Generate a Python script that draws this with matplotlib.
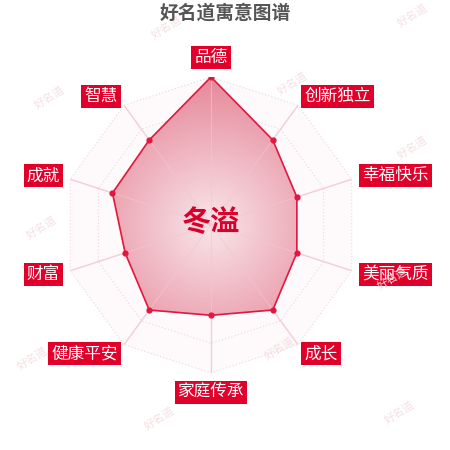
import numpy as np
import matplotlib
matplotlib.use("Agg")
import matplotlib.pyplot as plt

plt.rcParams['font.family'] = ['Noto Sans CJK SC', 'DejaVu Sans']

title = "好名道寓意图谱"
name = "冬溢"
categories = ["品德", "创新独立", "幸福快乐", "美丽气质", "成长",
              "家庭传承", "健康平安", "财富", "成就", "智慧"]
values = [100, 71, 61, 61, 71, 61, 71, 61, 70, 71]
max_value = 100
levels = [20, 40, 60, 80, 100]

W = H = 450
fig = plt.figure(figsize=(4.5, 4.5), dpi=100)
fig.patch.set_facecolor("white")

cx, cy, R = 211 / W, 1 - 225 / H, 148 / W
rect = [cx - R, cy - R, 2 * R, 2 * R]

# watermarks
wm = [(167, 27), (413, 15), (50, 97), (293, 83), (413, 147), (42, 227),
      (393, 278), (33, 358), (280, 348), (160, 418), (400, 412)]
for (x, y) in wm:
    fig.text(x / W, 1 - y / H, "好名道", fontsize=8, color="#f5e0e3",
             rotation=32, ha="center", va="center", zorder=0)

ax = fig.add_axes(rect, projection="polar")
ax.set_theta_zero_location("N")
ax.set_theta_direction(-1)
ax.set_ylim(0, max_value)
ax.axis("off")
ax.patch.set_alpha(0)

n = len(categories)
theta = np.linspace(0, 2 * np.pi, n, endpoint=False)
tc = np.append(theta, theta[0])

# background of grid
ax.fill(tc, [max_value] * (n + 1), color=(0.996, 0.978, 0.982), zorder=1, lw=0)
for lv in levels:
    ax.plot(tc, [lv] * (n + 1), color="#eed6db", lw=0.8, ls=(0, (1, 2)), zorder=2)
for t in theta:
    ax.plot([t, t], [0, max_value], color="#f3dbe0", lw=1.0, zorder=2)

vc = np.append(values, values[0])
poly = ax.fill(tc, vc, color="none", lw=0, zorder=3)[0]

# radial gradient overlay clipped to data polygon
gax = fig.add_axes(rect)
gax.set_xlim(-1, 1)
gax.set_ylim(-1, 1)
gax.axis("off")
gax.patch.set_alpha(0)
yy, xx = np.mgrid[-1:1:400j, -1:1:400j]
rr = np.clip(np.sqrt(xx ** 2 + yy ** 2), 0, 1)
c0 = np.array([249, 230, 234]) / 255
c1 = np.array([230, 136, 154]) / 255
img = c0[None, None, :] * (1 - rr[..., None]) + c1[None, None, :] * rr[..., None]
im = gax.imshow(img, extent=[-1, 1, -1, 1], origin="lower", zorder=3)
im.set_clip_path(poly)

ax2 = fig.add_axes(rect, projection="polar")
ax2.set_theta_zero_location("N")
ax2.set_theta_direction(-1)
ax2.set_ylim(0, max_value)
ax2.axis("off")
ax2.patch.set_alpha(0)
for t in theta:
    ax2.plot([t, t], [0, max_value], color="#f4c6cf", lw=0.8, alpha=0.6, zorder=2)
ax2.plot(tc, vc, color="#e2163f", lw=1.2, zorder=5)
ax2.scatter(theta, values, s=12, color="#e2163f", zorder=6)

# category labels
lr = max_value * 159 / 148
for t, lab in zip(theta, categories):
    s, c = np.sin(t), np.cos(t)
    ha = "center" if abs(s) < 1e-3 else ("left" if s > 0 else "right")
    va = "bottom" if c > 0.99 else ("top" if c < -0.99 else "center")
    ax2.text(t, lr, lab, ha=ha, va=va, fontsize=12, color="white", zorder=7,
             bbox=dict(boxstyle="square,pad=0.18", fc="#e0002a", ec="none"))

ax2.text(0, 2, name, ha="center", va="center", fontsize=21, fontweight="bold",
         color="#d9002a", zorder=8)

fig.text(225 / W, 1 - 13 / H, title, ha="center", va="center", fontsize=13.5,
         fontweight="bold", color="#555555")

fig.savefig("out.png", dpi=100)
